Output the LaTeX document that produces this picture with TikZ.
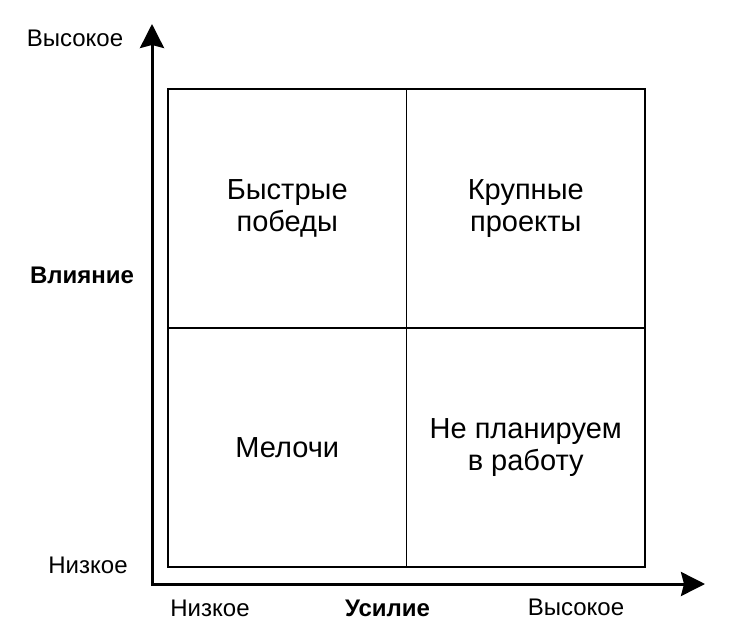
\documentclass[tikz,border=0pt]{standalone}
\usepackage{fontspec}
\setmainfont{Liberation Sans}
\usetikzlibrary{arrows.meta, positioning}

\begin{document}
\begin{tikzpicture}[x=1pt, y=-1pt,
    every node/.style={font=\fontsize{24}{28}\selectfont},
    cell/.style={draw, line width=1.5pt, minimum width=238.5pt, minimum height=239pt,
        inner sep=0pt, align=center, font=\fontsize{29}{32.5}\selectfont},
    axis/.style={line width=3pt, {Stealth[length=24pt, width=24pt, inset=3pt]}-{Stealth[length=24pt, width=24pt, inset=3pt]}},
    title/.style={font=\fontsize{24}{28}\selectfont\bfseries}]
    \useasboundingbox (0,0) rectangle (736,642);

    % Quadrants
    \node[cell] (quick) at (287.25, 208.5) {Быстрые\\победы};
    \node[cell] (big) at (525.75, 208.5) {Крупные\\проекты};
    \node[cell] (small) at (287.25, 447.5) {Мелочи};
    \node[cell] (skip) at (525.75, 447.5) {Не планируем\\в работу};

    % Axes
    \coordinate (origin) at (152, 584);
    \coordinate (ytip) at (152, 24);
    \coordinate (xtip) at (705, 584);
    \draw[axis] (ytip) -- (origin) -- (xtip);

    % Labels
    \node[anchor=base] (yhigh) at (75, 47) {Высокое};
    \node[title, anchor=base] (ylabel) at (82, 283) {Влияние};
    \node[anchor=base] (ylow) at (88, 573) {Низкое};
    \node[anchor=base] (xlow) at (210, 616) {Низкое};
    \node[title, anchor=base] (xlabel) at (387.5, 616) {Усилие};
    \node[anchor=base] (xhigh) at (576, 615) {Высокое};
\end{tikzpicture}
\end{document}
